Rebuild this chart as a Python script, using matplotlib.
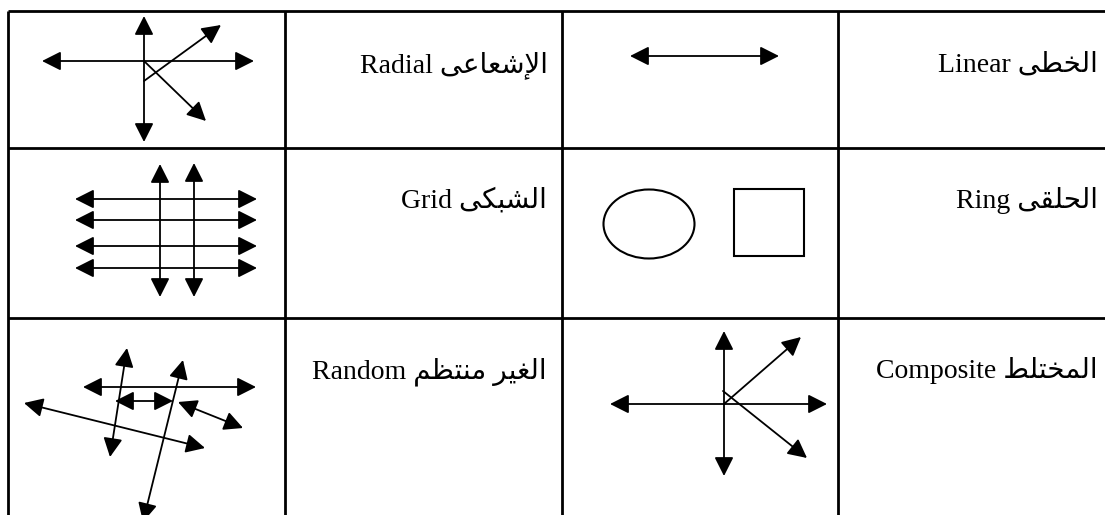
import matplotlib
matplotlib.use("Agg")
import matplotlib.pyplot as plt
from matplotlib.patches import FancyArrowPatch, Ellipse, Rectangle

# table grid (pixel coords, y down)
col_edges = [8, 285, 562, 838]
row_edges = [11, 148, 318]

# cell texts: (arabic, english, right x, baseline y)
labels_ar = ["الإشعاعى", "الخطى", "الشبكى", "الحلقى", "الغير منتظم", "المختلط"]
labels_en = ["Radial", "Linear", "Grid", "Ring", "Random", "Composite"]
label_x = [548, 1098, 547, 1098, 547, 1098]
label_y = [72, 72, 208, 208, 378, 378]

# arrows: x1, y1, x2, y2, style
radial_arrows = [
    (42, 61, 254, 61, "<|-|>"),
    (144, 16, 144, 142, "<|-|>"),
    (144, 81, 221, 25, "-|>"),
    (144, 61, 206, 121, "-|>"),
]
linear_arrows = [(630, 56, 779, 56, "<|-|>")]
grid_arrows = [
    (75, 199, 257, 199, "<|-|>"),
    (75, 220, 257, 220, "<|-|>"),
    (75, 246, 257, 246, "<|-|>"),
    (75, 268, 257, 268, "<|-|>"),
    (160, 164, 160, 297, "<|-|>"),
    (194, 163, 194, 297, "<|-|>"),
]
random_arrows = [
    (83, 387, 256, 387, "<|-|>"),
    (115, 401, 173, 401, "<|-|>"),
    (127, 348, 110, 457, "<|-|>"),
    (24, 403, 205, 448, "<|-|>"),
    (183, 360, 143, 522, "<|-|>"),
    (178, 402, 243, 428, "<|-|>"),
]
composite_arrows = [
    (610, 404, 827, 404, "<|-|>"),
    (724, 331, 724, 476, "<|-|>"),
    (724, 404, 801, 337, "-|>"),
    (723, 391, 807, 458, "-|>"),
]
# ring cell shapes
ellipse_c = (649, 224)
ellipse_wh = (91, 69)
square_xy = (734, 189)
square_wh = (70, 67)

# arabic presentation forms: isolated, final, initial, medial
FORMS = {
    "ا": ("\ufe8d", "\ufe8e"), "إ": ("\ufe87", "\ufe88"), "ر": ("\ufead", "\ufeae"),
    "ى": ("\ufeef", "\ufef0"),
    "ب": ("\ufe8f", "\ufe90", "\ufe91", "\ufe92"), "ت": ("\ufe95", "\ufe96", "\ufe97", "\ufe98"),
    "ح": ("\ufea1", "\ufea2", "\ufea3", "\ufea4"), "خ": ("\ufea5", "\ufea6", "\ufea7", "\ufea8"),
    "ش": ("\ufeb5", "\ufeb6", "\ufeb7", "\ufeb8"), "ط": ("\ufec1", "\ufec2", "\ufec3", "\ufec4"),
    "ظ": ("\ufec5", "\ufec6", "\ufec7", "\ufec8"), "ع": ("\ufec9", "\ufeca", "\ufecb", "\ufecc"),
    "غ": ("\ufecd", "\ufece", "\ufecf", "\ufed0"), "ق": ("\ufed5", "\ufed6", "\ufed7", "\ufed8"),
    "ك": ("\ufed9", "\ufeda", "\ufedb", "\ufedc"), "ل": ("\ufedd", "\ufede", "\ufedf", "\ufee0"),
    "م": ("\ufee1", "\ufee2", "\ufee3", "\ufee4"), "ن": ("\ufee5", "\ufee6", "\ufee7", "\ufee8"),
    "ي": ("\ufef1", "\ufef2", "\ufef3", "\ufef4"),
}
LAM_ALEF = {"ا": ("\ufefb", "\ufefc"), "إ": ("\ufef9", "\ufefa")}


def shape(word):
    # merge lam+alef into ligature tokens
    toks = []
    i = 0
    while i < len(word):
        if word[i] == "ل" and i + 1 < len(word) and word[i + 1] in LAM_ALEF:
            toks.append(("LA", word[i + 1]))
            i += 2
        else:
            toks.append(("C", word[i]))
            i += 1

    def joins_next(t):
        if t[0] == "LA":
            return False
        f = FORMS.get(t[1])
        return f is not None and len(f) == 4

    def joinable(t):
        return t[0] == "LA" or t[1] in FORMS

    out = []
    for k, t in enumerate(toks):
        prev = k > 0 and joinable(toks[k - 1]) and joins_next(toks[k - 1])
        nxt = k + 1 < len(toks) and joinable(toks[k + 1]) and joins_next(t)
        if t[0] == "LA":
            out.append(LAM_ALEF[t[1]][1 if prev else 0])
            continue
        f = FORMS.get(t[1])
        if f is None:
            out.append(t[1])
        elif len(f) == 2:
            out.append(f[1 if prev else 0])
        else:
            out.append(f[(3 if nxt else 1) if prev else (2 if nxt else 0)])
    return "".join(out)


def visual(ar, en):
    return en + " " + shape(ar)[::-1]


def draw_arrows(ax, arrows):
    for x1, y1, x2, y2, st in arrows:
        ax.add_patch(FancyArrowPatch(
            (x1, y1), (x2, y2),
            arrowstyle=st + ",head_length=1.15,head_width=0.58",
            mutation_scale=10, shrinkA=0, shrinkB=0,
            lw=1.3, color="black", clip_on=True))


fig = plt.figure(figsize=(11.05, 5.15), dpi=100)
ax = fig.add_axes([0, 0, 1, 1])
ax.set_xlim(0, 1105)
ax.set_ylim(515, 0)
ax.axis("off")

# table lines
for x in col_edges:
    ax.plot([x, x], [row_edges[0], 520], color="black", lw=2, solid_capstyle="butt")
for y in row_edges:
    ax.plot([col_edges[0], 1110], [y, y], color="black", lw=2, solid_capstyle="butt")

for ar, en, x, y in zip(labels_ar, labels_en, label_x, label_y):
    ax.text(x, y, visual(ar, en), ha="right", va="baseline", fontsize=20,
            family=["Liberation Serif", "DejaVu Sans"])

for arr in [radial_arrows, linear_arrows, grid_arrows, random_arrows, composite_arrows]:
    draw_arrows(ax, arr)

ax.add_patch(Ellipse(ellipse_c, ellipse_wh[0], ellipse_wh[1], fill=False, lw=1.5, ec="black"))
ax.add_patch(Rectangle(square_xy, square_wh[0], square_wh[1], fill=False, lw=1.5, ec="black"))

fig.savefig("out.png", dpi=100)
